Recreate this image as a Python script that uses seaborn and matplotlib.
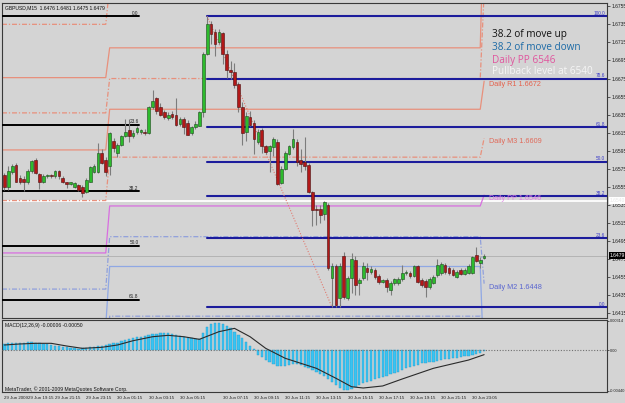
import matplotlib
matplotlib.use("Agg")
import matplotlib.pyplot as plt
import seaborn as sns

# GBPUSD M15 candles
opens = [1.6568, 1.6555, 1.6572, 1.6579, 1.6565, 1.6564, 1.6560, 1.6573, 1.6585, 1.6569,
         1.6561, 1.6567, 1.6568, 1.6567, 1.6573, 1.6565, 1.6560, 1.6558, 1.6555, 1.6557,
         1.6555, 1.6549, 1.6561, 1.6572, 1.6572, 1.6593, 1.6585, 1.6578, 1.6606, 1.6593,
         1.6602, 1.6611, 1.6618, 1.6611, 1.6616, 1.6616, 1.6616, 1.6615, 1.6643, 1.6653,
         1.6644, 1.6638, 1.6631, 1.6636, 1.6635, 1.6625, 1.6630, 1.6626, 1.6615, 1.6621,
         1.6623, 1.6638, 1.6702, 1.6735, 1.6726, 1.6715, 1.6725, 1.6702, 1.6685, 1.6682,
         1.6669, 1.6643, 1.6616, 1.6632, 1.6626, 1.6605, 1.6618, 1.6600, 1.6595, 1.6599,
         1.6605, 1.6559, 1.6575, 1.6592, 1.6599, 1.6605, 1.6585, 1.6583, 1.6579, 1.6549,
         1.6531, 1.6531, 1.6525, 1.6535, 1.6454, 1.6468, 1.6432, 1.6479, 1.6432, 1.6454,
         1.6474, 1.6449, 1.6454, 1.6465, 1.6461, 1.6463, 1.6457, 1.6450, 1.6452, 1.6441,
         1.6449, 1.6449, 1.6453, 1.6460, 1.6460, 1.6457, 1.6468, 1.6452, 1.6451, 1.6444,
         1.6449, 1.6458, 1.6460, 1.6469, 1.6465, 1.6463, 1.6455, 1.6463, 1.6459, 1.6460,
         1.6460, 1.6480, 1.6471, 1.6476]
highs = [1.6571, 1.6578, 1.6580, 1.6582, 1.6568, 1.6567, 1.6575, 1.6585, 1.6587, 1.6571,
         1.6569, 1.6569, 1.6569, 1.6574, 1.6574, 1.6567, 1.6561, 1.6561, 1.6560, 1.6558,
         1.6557, 1.6565, 1.6578, 1.6580, 1.6604, 1.6597, 1.6588, 1.6616, 1.6609, 1.6604,
         1.6613, 1.6630, 1.6630, 1.6618, 1.6622, 1.6619, 1.6619, 1.6645, 1.6662, 1.6655,
         1.6648, 1.6640, 1.6638, 1.6639, 1.6654, 1.6632, 1.6632, 1.6629, 1.6623, 1.6628,
         1.6639, 1.6704, 1.6744, 1.6739, 1.6730, 1.6730, 1.6727, 1.6707, 1.6694, 1.6692,
         1.6671, 1.6649, 1.6638, 1.6639, 1.6629, 1.6619, 1.6620, 1.6602, 1.6602, 1.6610,
         1.6608, 1.6578, 1.6595, 1.6602, 1.6619, 1.6608, 1.6597, 1.6610, 1.6581, 1.6551,
         1.6535, 1.6535, 1.6540, 1.6537, 1.6471, 1.6470, 1.6471, 1.6483, 1.6457, 1.6482,
         1.6479, 1.6454, 1.6472, 1.6471, 1.6467, 1.6465, 1.6459, 1.6453, 1.6454, 1.6451,
         1.6454, 1.6455, 1.6469, 1.6463, 1.6462, 1.6469, 1.6469, 1.6454, 1.6453, 1.6455,
         1.6458, 1.6475, 1.6472, 1.6471, 1.6468, 1.6465, 1.6463, 1.6465, 1.6465, 1.6470,
         1.6479, 1.6489, 1.6477, 1.6481]
lows = [1.6552, 1.6552, 1.6569, 1.6560, 1.6558, 1.6550, 1.6558, 1.6571, 1.6569, 1.6553,
        1.6559, 1.6565, 1.6565, 1.6565, 1.6564, 1.6559, 1.6554, 1.6557, 1.6554, 1.6551,
        1.6544, 1.6548, 1.6560, 1.6571, 1.6571, 1.6580, 1.6567, 1.6568, 1.6594, 1.6588,
        1.6600, 1.6610, 1.6605, 1.6609, 1.6614, 1.6614, 1.6612, 1.6614, 1.6641, 1.6636,
        1.6633, 1.6630, 1.6629, 1.6630, 1.6623, 1.6623, 1.6614, 1.6612, 1.6613, 1.6619,
        1.6622, 1.6632, 1.6701, 1.6713, 1.6700, 1.6713, 1.6691, 1.6676, 1.6674, 1.6665,
        1.6638, 1.6602, 1.6606, 1.6622, 1.6592, 1.6603, 1.6593, 1.6591, 1.6572, 1.6589,
        1.6557, 1.6558, 1.6574, 1.6590, 1.6597, 1.6578, 1.6572, 1.6574, 1.6548, 1.6512,
        1.6513, 1.6515, 1.6519, 1.6463, 1.6422, 1.6422, 1.6422, 1.6431, 1.6430, 1.6438,
        1.6436, 1.6436, 1.6452, 1.6452, 1.6459, 1.6453, 1.6448, 1.6449, 1.6439, 1.6436,
        1.6447, 1.6447, 1.6451, 1.6458, 1.6454, 1.6455, 1.6449, 1.6444, 1.6433, 1.6442,
        1.6448, 1.6455, 1.6458, 1.6459, 1.6458, 1.6457, 1.6454, 1.6458, 1.6458, 1.6459,
        1.6459, 1.6472, 1.6465, 1.6475]
closes = [1.6555, 1.6573, 1.6578, 1.6561, 1.6560, 1.6560, 1.6573, 1.6584, 1.6570, 1.6560,
          1.6567, 1.6568, 1.6567, 1.6573, 1.6567, 1.6560, 1.6558, 1.6560, 1.6559, 1.6552,
          1.6548, 1.6563, 1.6577, 1.6578, 1.6593, 1.6582, 1.6572, 1.6615, 1.6598, 1.6602,
          1.6611, 1.6616, 1.6611, 1.6615, 1.6620, 1.6618, 1.6615, 1.6643, 1.6650, 1.6639,
          1.6635, 1.6632, 1.6635, 1.6632, 1.6624, 1.6630, 1.6621, 1.6613, 1.6621, 1.6625,
          1.6638, 1.6702, 1.6735, 1.6724, 1.6713, 1.6727, 1.6702, 1.6685, 1.6682, 1.6668,
          1.6643, 1.6615, 1.6633, 1.6624, 1.6608, 1.6616, 1.6600, 1.6594, 1.6600, 1.6608,
          1.6558, 1.6575, 1.6593, 1.6600, 1.6608, 1.6583, 1.6580, 1.6578, 1.6549, 1.6530,
          1.6529, 1.6524, 1.6538, 1.6465, 1.6468, 1.6424, 1.6467, 1.6433, 1.6454, 1.6475,
          1.6447, 1.6452, 1.6467, 1.6461, 1.6464, 1.6455, 1.6450, 1.6452, 1.6444, 1.6449,
          1.6453, 1.6453, 1.6460, 1.6461, 1.6457, 1.6467, 1.6450, 1.6447, 1.6444, 1.6453,
          1.6455, 1.6469, 1.6470, 1.6461, 1.6460, 1.6458, 1.6461, 1.6459, 1.6463, 1.6468,
          1.6477, 1.6473, 1.6474, 1.6479]

# MACD(12,26,9) main values (histogram) and signal line
macd = [0.00070, 0.00072, 0.00074, 0.00075, 0.00076, 0.00080, 0.00083, 0.00082, 0.00078, 0.00073,
        0.00068, 0.00060, 0.00054, 0.00048, 0.00040, 0.00034, 0.00028, 0.00022, 0.00018, 0.00016,
        0.00017, 0.00024, 0.00029, 0.00032, 0.00040, 0.00045, 0.00050, 0.00065, 0.00072, 0.00080,
        0.00095, 0.00108, 0.00115, 0.00128, 0.00137, 0.00145, 0.00155, 0.00165, 0.00172, 0.00176,
        0.00180, 0.00180, 0.00178, 0.00170, 0.00158, 0.00150, 0.00142, 0.00130, 0.00124, 0.00115,
        0.00118, 0.00185, 0.00250, 0.00276, 0.00287, 0.00287, 0.00280, 0.00261, 0.00233, 0.00197,
        0.00161, 0.00126, 0.00089, 0.00043, 0.00008, -0.00054, -0.00078, -0.00108, -0.00129, -0.00151,
        -0.00169, -0.00172, -0.00172, -0.00164, -0.00154, -0.00154, -0.00164, -0.00180, -0.00197, -0.00215,
        -0.00237, -0.00258, -0.00280, -0.00315, -0.00341, -0.00376, -0.00405, -0.00427, -0.00430, -0.00422,
        -0.00401, -0.00376, -0.00358, -0.00344, -0.00330, -0.00315, -0.00301, -0.00287, -0.00276, -0.00261,
        -0.00247, -0.00233, -0.00210, -0.00199, -0.00188, -0.00177, -0.00161, -0.00145, -0.00140, -0.00132,
        -0.00126, -0.00118, -0.00108, -0.00102, -0.00097, -0.00089, -0.00081, -0.00072, -0.00067, -0.00060,
        -0.00054, -0.00043, -0.00029, -0.00006]
signal_bar = [0, 4, 8, 12, 16, 20, 25, 29, 33, 38, 42, 46, 50, 55, 59, 63, 67, 72, 76, 80,
              85, 89, 92, 97, 102, 110, 119, 123]
signal = [0.00054, 0.00065, 0.00072, 0.00072, 0.00043, 0.00018, 0.00029, 0.00054, 0.00100, 0.00143,
          0.00158, 0.00143, 0.00115, 0.00197, 0.00233, 0.00143, 0.00018, -0.00089, -0.00143, -0.00197,
          -0.00304, -0.00395, -0.00409, -0.00387, -0.00312, -0.00197, -0.00108, -0.00050]

# daily pivots: previous day, current day, new day
pivot_names = ["M5", "R2", "M4", "R1", "M3", "PP", "M2", "S1", "M1"]
pivot_day1 = [1.6735, 1.6676, 1.6637, 1.6596, 1.6540, 1.6482, 1.6442, 1.6402, 1.6345]
pivot_day2 = [1.6777, 1.6709, 1.6675, 1.6641, 1.6588, 1.6534, 1.6500, 1.6467, 1.6412]
pivot_day3 = [1.6919, 1.6868, 1.6770, 1.6672, 1.6609, 1.6546, 1.6448, 1.6350, 1.6302]
day_change = [26, 27, 122, 123]

# fibonacci retracements
fib_down_labels = ["100.0", "78.6", "61.8", "50.0", "38.2", "23.6", "0.0"]
fib_down_prices = [1.6744, 1.6675, 1.6621, 1.6583, 1.6545, 1.6498, 1.6422]
fib_up_labels = ["0.0", "23.6", "38.2", "50.0", "61.8"]
fib_up_prices = [1.6744, 1.6624, 1.6550, 1.6490, 1.6430]
trend_bar = [52, 84]
trend_price = [1.6744, 1.6422]
pullback_price = 1.6540
bid_price = 1.6479

price_ticks = [1.6755, 1.6735, 1.6715, 1.6695, 1.6675, 1.6655, 1.6635, 1.6615, 1.6595,
               1.6575, 1.6555, 1.6535, 1.6515, 1.6495, 1.6475, 1.6455, 1.6435, 1.6415]
macd_ticks = [0.00314, 0.0, -0.00440]
macd_tick_labels = ["0.00314", "0.00", "-0.00440"]
time_pos = [0, 6, 13, 21, 29, 37, 45, 56, 64, 72, 80, 88, 96, 104, 112, 120]
time_labels = ["29 Jun 2009", "29 Jun 19:15", "29 Jun 21:15", "29 Jun 23:15", "30 Jun 01:15",
               "30 Jun 03:15", "30 Jun 05:15", "30 Jun 07:15", "30 Jun 09:15", "30 Jun 11:15",
               "30 Jun 13:15", "30 Jun 15:15", "30 Jun 17:15", "30 Jun 19:15", "30 Jun 21:15",
               "30 Jun 23:05"]

BG = "#d4d4d4"
SALMON = "#e8907c"
DASHDOT = (0, (4, 1.5, 1, 1.5))

sns.set_theme(style="white")
plt.rcParams["font.family"] = ["Liberation Sans", "DejaVu Sans"]

fig = plt.figure(figsize=(6.25, 4.03), dpi=100, facecolor=BG)
ax = fig.add_axes([2 / 625, 1 - 318 / 403, 605 / 625, 315 / 403], facecolor=BG)
ax2 = fig.add_axes([2 / 625, 1 - 392 / 403, 605 / 625, 72 / 403], facecolor=BG)

x_left, x_right = -0.6, 154.5
idx = list(range(len(opens)))

# background horizontal lines
ax.axhline(pullback_price, color="white", lw=1.3, zorder=1)
ax.axhline(bid_price, color="#b4b4b4", lw=0.7, zorder=1)

# pivot lines
for name, v1, v2, v3 in zip(pivot_names, pivot_day1, pivot_day2, pivot_day3):
    xs = [x_left] + day_change
    ys = [v1, v1, v2, v2, v3]
    if name == "PP":
        col, ls = "#d86ee0", "-"
    elif name.startswith("R"):
        col, ls = SALMON, "-"
    elif name.startswith("S"):
        col, ls = "#90a8e4", "-"
    elif name in ("M1", "M2"):
        col, ls = "#90a0dc", DASHDOT
    else:
        col, ls = SALMON, DASHDOT
    ax.plot(xs, ys, color=col, ls=ls, lw=0.9, zorder=2)

pivot_text = [("Daily R1 1.6672", 1.6672, "#e4614c"),
              ("Daily M3 1.6609", 1.6609, "#e06a5a"),
              ("Daily PP 1.6546", 1.6546, "#e07ae6"),
              ("Daily M2 1.6448", 1.6448, "#5a66d0")]
for txt, lvl, col in pivot_text:
    ax.text(124.3, lvl, txt, color=col, fontsize=5.2, va="top", ha="left", zorder=6)

# fibonacci (move up, black, short)
for lab, p in zip(fib_up_labels, fib_up_prices):
    ax.plot([x_left, 34.6], [p, p], color="black", lw=1.4, zorder=3)
    ax.text(34.4, p + 0.00005, lab, fontsize=3.4, color="#202020", ha="right", va="bottom", zorder=6)

# fibonacci (move down, navy, to the right edge)
for lab, p in zip(fib_down_labels, fib_down_prices):
    ax.plot([52, x_right], [p, p], color="#1c1c9c", lw=1.5, zorder=3)
    ax.text(154.0, p + 0.00005, lab, fontsize=3.4, color="#3a3ac8", ha="right", va="bottom", zorder=6)
sns.lineplot(x=trend_bar, y=trend_price, ax=ax, color="#e07a70", lw=0.8, ls=(0, (1, 1.5)), zorder=3)

# candles
for i, o, h, l, c in zip(idx, opens, highs, lows, closes):
    up = c >= o
    ax.vlines(i, l, h, color="#7c7c7c", lw=0.8, zorder=4)
    body = max(abs(c - o), 0.00006)
    ax.bar(i, body, bottom=min(o, c), width=0.7,
           color="#2dbb2d" if up else "#b31818",
           edgecolor="#1d4a1d" if up else "#4a1010", lw=0.4, zorder=5)

ax.set_xlim(x_left, x_right)
ax.set_ylim(1.6410, 1.67586)
ax.set_xticks([])
ax.yaxis.tick_right()
ax.set_yticks(price_ticks)
ax.set_yticklabels([f"{t:.4f}" for t in price_ticks])
ax.tick_params(axis="y", length=2, width=0.5, pad=1, labelsize=3.6, colors="#202020")

ytr = ax.get_yaxis_transform()
ax.text(1.004, bid_price, f"{bid_price:.4f}", transform=ytr, fontsize=3.6, color="white",
        va="center", ha="left", bbox=dict(boxstyle="square,pad=0.15", fc="black", ec="none"))
ax.text(1.004, pullback_price, f"{pullback_price:.4f}", transform=ytr, fontsize=3.6, color="#e8e8e8",
        va="center", ha="left", bbox=dict(boxstyle="square,pad=0.15", fc="white", ec="none"))

# MACD panel
ax2.bar(idx, macd, width=0.6, color="#38c4f2", edgecolor="#2a9ccc", lw=0.3, zorder=2)
ax2.axhline(0, color="#707070", ls=(0, (1, 1.5)), lw=0.8, zorder=3)
sns.lineplot(x=signal_bar, y=signal, ax=ax2, color="#2a2a2a", lw=0.8, zorder=4)
ax2.set_xlim(x_left, x_right)
ax2.set_ylim(-0.00452, 0.00323)
ax2.yaxis.tick_right()
ax2.set_yticks(macd_ticks)
ax2.set_yticklabels(macd_tick_labels)
ax2.tick_params(axis="y", length=1.5, width=0.5, pad=0.5, labelsize=2.8, colors="#202020")
ax2.set_xticks(time_pos)
ax2.set_xticklabels(time_labels, ha="left")
ax2.tick_params(axis="x", length=2, width=0.5, pad=1, labelsize=3.2, colors="#202020")

for a in (ax, ax2):
    for s in a.spines.values():
        s.set_color("#3a3a3a")
        s.set_linewidth(0.8)
        s.set_visible(True)

# text overlays
fig.text(5 / 625, 1 - 8 / 403, "GBPUSD,M15  1.6476 1.6481 1.6475 1.6479", fontsize=3.6, va="center", color="#101010")
fig.text(5 / 625, 1 - 325 / 403, "MACD(12,26,9) -0.00006 -0.00050", fontsize=3.6, va="center", color="#101010")
fig.text(5 / 625, 1 - 389 / 403, "MetaTrader, \u00a9 2001-2009 MetaQuotes Software Corp.", fontsize=3.6,
         va="center", color="#101010")

notes = [("38.2 of move up", "#111111", 35),
         ("38.2 of move down", "#1c6aa6", 47),
         ("Daily PP 6546", "#e0569e", 60),
         ("Pullback level at 6540", "#f6f6f6", 72)]
for txt, col, ypx in notes:
    fig.text(492 / 625, 1 - ypx / 403, txt, color=col, fontsize=7.2, va="center", ha="left",
             family=["Open Sans", "DejaVu Sans"])

fig.savefig("out.png", dpi=100, facecolor=BG)
